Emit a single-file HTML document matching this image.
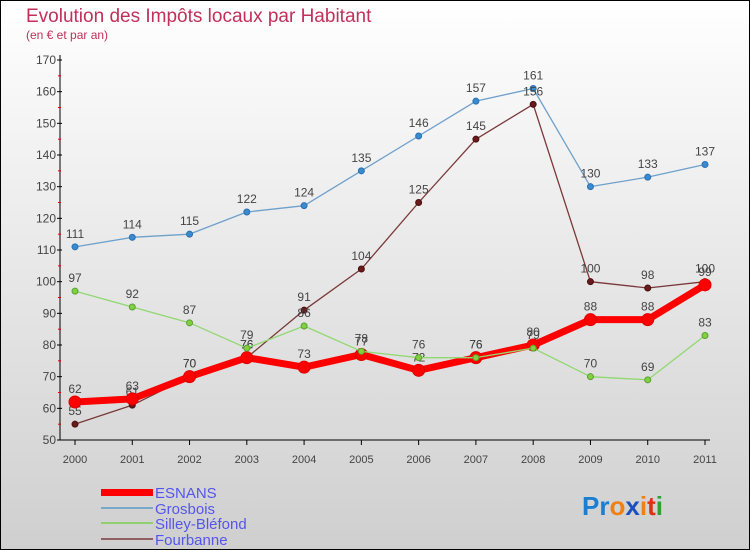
<!DOCTYPE html>
<html><head><meta charset="utf-8"><style>
body{margin:0;width:750px;height:550px;overflow:hidden}
svg{display:block;font-family:"Liberation Sans",sans-serif}
</style></head><body>
<svg id="c" width="750" height="550">
<defs><linearGradient id="bg" x1="0" y1="0" x2="0" y2="1"><stop offset="0" stop-color="#ffffff"/><stop offset="1" stop-color="#cfcfcf"/></linearGradient></defs>
<rect x="0.5" y="0.5" width="749" height="549" fill="url(#bg)" stroke="#000"/>
<text x="26" y="22" font-size="19" fill="#c0305a">Evolution des Impôts locaux par Habitant</text>
<text x="26" y="39" font-size="12" fill="#c0305a">(en € et par an)</text>
<g id="axes"></g><g id="series"></g>
<g>
<rect x="101" y="489" width="52" height="7" fill="#f00"/>
<line x1="101" y1="508" x2="153" y2="508" stroke="#7aa8c8" stroke-width="2"/>
<line x1="101" y1="523" x2="153" y2="523" stroke="#90d070" stroke-width="2"/>
<line x1="101" y1="539" x2="153" y2="539" stroke="#906060" stroke-width="2"/>
<text x="155" y="498" font-size="15" fill="#5555ee">ESNANS</text>
<text x="155" y="514" font-size="15" fill="#5555ee">Grosbois</text>
<text x="155" y="529" font-size="15" fill="#5555ee">Silley-Bléfond</text>
<text x="155" y="545" font-size="15" fill="#5555ee">Fourbanne</text>
</g>
<g font-size="26" font-weight="bold">
<text x="582" y="515"><tspan fill="#1a7fd0">Pr</tspan><tspan fill="#f08010">o</tspan><tspan fill="#1a50c0">x</tspan><tspan fill="#f08010">i</tspan><tspan fill="#e03010">t</tspan><tspan fill="#30a030">i</tspan></text>
</g>
</svg>
<script>
const years=[2000,2001,2002,2003,2004,2005,2006,2007,2008,2009,2010,2011];
const esnans=[62,63,70,76,73,77,72,76,80,88,88,99];
const grosbois=[111,114,115,122,124,135,146,157,161,130,133,137];
const silley=[97,92,87,79,86,78,76,76,79,70,69,83];
const fourbanne=[55,61,70,76,91,104,125,145,156,100,98,100];
const yTicks=[50,60,70,80,90,100,110,120,130,140,150,160,170];
const NS="http://www.w3.org/2000/svg";
const X=i=>75+i*(630/11);
const Y=v=>440-(v-50)*(380/120);
function mk(t,a,p){const e=document.createElementNS(NS,t);for(const k in a)e.setAttribute(k,a[k]);p.appendChild(e);return e;}
const ax=document.getElementById('axes');
mk('line',{x1:60,y1:55,x2:60,y2:440,stroke:'#000'},ax);
mk('line',{x1:60,y1:440,x2:710,y2:440,stroke:'#000'},ax);
yTicks.forEach(v=>{
  mk('line',{x1:57,y1:Y(v),x2:62,y2:Y(v),stroke:'#000'},ax);
  if(v<170) mk('line',{x1:58,y1:Y(v+5),x2:61,y2:Y(v+5),stroke:'#d00'},ax);
  const t=mk('text',{x:56,y:Y(v)+4,'text-anchor':'end','font-size':12,fill:'#444'},ax);
  t.textContent=v;
  
  
});
years.forEach((y,i)=>{
  mk('line',{x1:X(i),y1:440,x2:X(i),y2:445,stroke:'#000'},ax);
  const t=mk('text',{x:X(i),y:463,'text-anchor':'middle','font-size':11,fill:'#444'},ax);
  t.textContent=y;
  
  
});
const sg=document.getElementById('series');
function series(name,data,color,w,dot,dotFill,r){
  const g=mk('g',{},sg);
  
  
  mk('polyline',{points:data.map((v,i)=>X(i)+','+Y(v)).join(' '),fill:'none',stroke:color,'stroke-width':w,'stroke-linejoin':'round'},g);
  data.forEach((v,i)=>{
    const c=mk('circle',{cx:X(i),cy:Y(v),r:r,fill:dotFill,stroke:dot,'stroke-width':1},g);
    
    
    const t=mk('text',{x:X(i),y:Y(v)-9,'text-anchor':'middle','font-size':12,fill:'#444'},g);
    t.textContent=v;
    
    
  });
}
series('grosbois-series',grosbois,'#6ea0cc',1.3,'#2a70b0','#3a8ad0',3);
series('fourbanne-series',fourbanne,'#7a3838',1.3,'#4a1010','#6a1a1a',3);
series('esnans-series',esnans,'#f00',7,'#d00','#f00',6);
series('silley-series',silley,'#90d870',1.3,'#5aa030','#80d040',3);
</script>
</body></html>
